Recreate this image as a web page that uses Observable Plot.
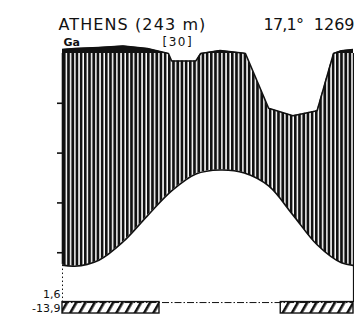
<!DOCTYPE html>
<html><head><meta charset="utf-8">
<script src="https://cdn.jsdelivr.net/npm/d3@7"></script>
<script src="https://cdn.jsdelivr.net/npm/@observablehq/plot@0.6"></script>
<style>body{margin:0;background:#fff}</style>
</head><body><div id="chart"></div>
<script>
// ---- data (read from the Walter–Lieth climate diagram) ----
const months = ["Jan","Feb","Mar","Apr","May","Jun","Jul","Aug","Sep","Oct","Nov","Dec"];
const temperature = [7.3, 8.5, 12.2, 17.4, 22.4, 25.8, 26.6, 26.0, 23.4, 17.6, 11.6, 8.0]; // °C
const precipitation = [120, 124, 130, 120, 97, 97, 112, 101, 78, 75, 77, 111];          // mm
const frost = [1, 1, 1, 1, 0, 0, 0, 0, 0, 1, 1, 1]; // absolute minimum below 0 °C
const tempTicks = [10, 20, 30, 40];
const station = "ATHENS (243 m)";
const region = "Ga";
const years = "[30]";
const meanTemp = "17,1°";
const annualPrecip = "1269";
const meanMinColdest = "1,6";
const absMin = "-13,9";

// ---- helpers ----
// precipitation -> temperature-axis units (10 °C = 20 mm; above 100 mm reduced to 1/10)
const pu = p => p <= 100 ? p / 2 : 50 + (p - 100) / 20;
// cyclic series (Dec before Jan, Jan after Dec) so curves reach the frame edges
const idx = d3.range(-1, 13).map(i => (i + 12) % 12);
const tSeries = d3.range(-1, 13).map((k, j) => ({x: k + 0.5, t: temperature[idx[j]]}));
const pRaw = d3.range(-1, 13).map((k, j) => ({x: k + 0.5, p: precipitation[idx[j]]}));
const pSeries = [];
pRaw.forEach((d, i) => {
  if (i > 0) {
    const a = pRaw[i - 1];
    if ((a.p - 100) * (d.p - 100) < 0) {
      const f = (100 - a.p) / (d.p - a.p);
      pSeries.push({x: a.x + f * (d.x - a.x), p: 100});
    }
  }
  pSeries.push(d);
});
pSeries.forEach(d => d.u = pu(d.p));
const edgeT = (temperature[0] + temperature[11]) / 2;
// runs of frost months
const runs = [];
frost.forEach((f, i) => {
  if (f) {
    if (runs.length && runs[runs.length - 1].x2 === i) runs[runs.length - 1].x2 = i + 1;
    else runs.push({x1: i, x2: i + 1});
  }
});

const ink = "#111";
const svg = Plot.plot({
  width: 354, height: 318,
  marginLeft: 62, marginRight: 1, marginTop: 43, marginBottom: 0,
  style: {fontFamily: "DejaVu Sans", background: "white", color: ink},
  x: {domain: [0, 12], axis: null},
  y: {domain: [-3.2, 52], axis: null},
  marks: [
    Plot.ruleY([0], {x1: 0, x2: 12, stroke: ink, strokeWidth: 1, strokeDasharray: "7,2,1.5,2"}),
    Plot.areaY(pSeries, {x: "x", y1: 0, y2: d => Math.min(d.u, 50), fill: "url(#vhatch)", clip: "frame"}),
    Plot.areaY(tSeries, {x: "x", y1: 0, y2: "t", curve: "catmull-rom", fill: "white", clip: "frame"}),
    Plot.areaY(pSeries, {x: "x", y1: 50, y2: d => Math.max(d.u, 50), fill: ink, clip: "frame"}),
    Plot.line(pSeries, {x: "x", y: "u", stroke: ink, strokeWidth: 1.6, clip: "frame"}),
    Plot.line(tSeries, {x: "x", y: "t", curve: "catmull-rom", stroke: ink, strokeWidth: 1.6, clip: "frame"}),
    Plot.ruleX([0], {y1: edgeT, y2: 50, stroke: ink, strokeWidth: 1.6}),
    Plot.ruleX([0], {y1: 0, y2: edgeT, stroke: ink, strokeWidth: 1, strokeDasharray: "1.5,2.5"}),
    Plot.ruleX([12], {y1: 0, y2: 50, stroke: ink, strokeWidth: 1.2}),
    Plot.rectY(runs, {x1: "x1", x2: "x2", y1: -2.2, y2: 0.1, fill: "url(#dhatch)", stroke: ink, strokeWidth: 1.4}),
    Plot.axisY({ticks: tempTicks, tickSize: 5, tickFormat: () => "", label: null, strokeWidth: 1.6}),
    Plot.text([station], {frameAnchor: "top-left", dx: -4, dy: -14, lineAnchor: "bottom", textAnchor: "start", fontSize: 16, fill: ink}),
    Plot.text([region], {frameAnchor: "top-left", dx: 1, dy: 2, lineAnchor: "bottom", textAnchor: "start", fontSize: 11, fontWeight: "bold", fill: ink}),
    Plot.text([years], {frameAnchor: "top-left", dx: 100, dy: 2, lineAnchor: "bottom", textAnchor: "start", fontSize: 12, fill: ink}),
    Plot.text([meanTemp], {frameAnchor: "top-left", dx: 201, dy: -14, lineAnchor: "bottom", textAnchor: "start", fontSize: 16, fill: ink}),
    Plot.text([annualPrecip], {frameAnchor: "top-right", dx: 1, dy: -14, lineAnchor: "bottom", textAnchor: "end", fontSize: 16, fill: ink}),
    Plot.text([meanMinColdest], {frameAnchor: "bottom-left", dx: -2, dy: -21, lineAnchor: "bottom", textAnchor: "end", fontSize: 11, fill: ink}),
    Plot.text([absMin], {frameAnchor: "bottom-left", dx: -2, dy: -7, lineAnchor: "bottom", textAnchor: "end", fontSize: 11, fill: ink})
  ]
});
const defs = d3.select(svg).insert("defs", ":first-child");
const vp = defs.append("pattern").attr("id", "vhatch").attr("patternUnits", "userSpaceOnUse")
  .attr("width", 4.2).attr("height", 8);
vp.append("rect").attr("width", 2.7).attr("height", 8).attr("fill", ink);
const dp = defs.append("pattern").attr("id", "dhatch").attr("patternUnits", "userSpaceOnUse")
  .attr("width", 8).attr("height", 8).attr("patternTransform", "rotate(30)");
dp.append("rect").attr("width", 2.6).attr("height", 8).attr("fill", ink);
const sel = t => d3.select(svg).selectAll("text").filter(function() { return this.textContent === t; });
sel(station).style("letter-spacing", "1.1px");
sel(years).style("letter-spacing", "1.5px");
sel(meanTemp).style("letter-spacing", "-0.8px");
document.getElementById("chart").appendChild(svg);
</script>
</body></html>
